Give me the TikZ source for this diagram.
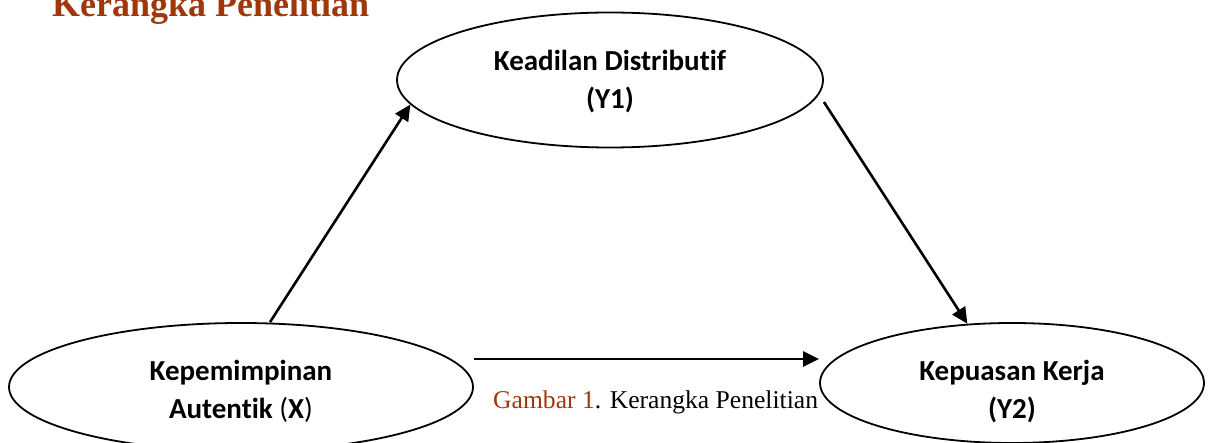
\documentclass[tikz,border=0pt]{standalone}
\usepackage{fontspec}
\setmainfont{Liberation Serif}
\newfontfamily\calibfont[Ligatures=NoCommon]{Carlito}
\usepackage{tikz}
\usetikzlibrary{shapes.geometric, arrows.meta}
\definecolor{judul}{RGB}{158,56,10}

\begin{document}
\begin{tikzpicture}[x=1pt, y=-1pt,
  var/.style={draw, ellipse, line width=1.8pt, inner sep=0pt},
  teks/.style={inner sep=0pt, align=center,
    font=\calibfont\bfseries\fontsize{29}{38}\selectfont},
  panah/.style={line width=2.6pt, -{Triangle[length=16pt, width=15pt]}}]
\useasboundingbox (0,0) rectangle (1214,443);
\clip (0,0) rectangle (1214,443);
\node[anchor=base west, inner sep=0pt, text=judul, font=\bfseries\fontsize{36}{36}\selectfont] (judul) at (52,17) {Kerangka Penelitian};
% variabel
\node[var, minimum width=426pt, minimum height=135pt] (y1) at (610,80) {};
\node[var, minimum width=464pt, minimum height=128pt] (x) at (241,387) {};
\node[var, minimum width=384pt, minimum height=120pt] (y2) at (1012,383) {};
\node[teks] (y1teks) at ([yshift=-2pt]y1.center) {Keadilan Distributif\\(Y1)};
\node[teks] (xteks) at ([yshift=-4pt]x.center) {Kepemimpinan\\Autentik \textmd{(}X\textmd{)}};
\node[teks] (y2teks) at ([yshift=-9pt]y2.center) {Kepuasan Kerja\\(Y2)};
% panah
\draw[panah] ([xshift=29pt]x.north) -- (y1.187);
\draw[panah] ([yshift=-22pt]y1.east) -- (y2.127);
\draw[panah] ([yshift=28pt]x.east) -- ([yshift=24pt]y2.west);
\node[anchor=base west, inner sep=0pt, font=\fontsize{25.6}{25.6}\selectfont] (ket) at (493,408) {\textcolor{judul}{Gambar 1}. Kerangka Penelitian};
\end{tikzpicture}
\end{document}
